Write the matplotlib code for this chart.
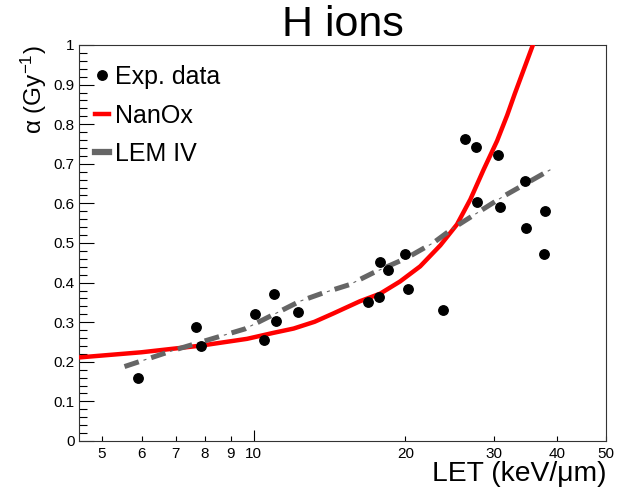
import matplotlib
matplotlib.use('Agg')
from matplotlib import ticker, pyplot as plt
from matplotlib.lines import Line2D

# experimental points (LET in keV/um, alpha in 1/Gy)
exp_let = [5.89, 7.69, 7.84, 10.05, 10.48, 10.98, 11.06, 12.26, 16.88, 17.76, 17.81, 18.48,
           19.94, 20.22, 23.70, 26.29, 27.56, 27.74, 30.54, 30.82, 34.61, 34.77, 37.82, 37.58]
exp_alpha = [0.160, 0.289, 0.239, 0.321, 0.255, 0.371, 0.303, 0.327, 0.352, 0.363, 0.451, 0.431,
             0.471, 0.385, 0.331, 0.762, 0.742, 0.604, 0.723, 0.592, 0.656, 0.537, 0.582, 0.472]

nanox_let = [4.5, 5.98, 7.87, 9.7, 10.93, 12.0, 13.2, 14.38, 16.25, 17.81, 19.52, 21.39, 23.45,
             25.31, 26.9, 28.6, 30.4, 31.84, 32.96, 35.8, 36.3]
nanox_alpha = [0.211, 0.224, 0.241, 0.258, 0.273, 0.284, 0.301, 0.322, 0.353, 0.372, 0.403, 0.441,
               0.494, 0.547, 0.610, 0.686, 0.758, 0.823, 0.877, 1.000, 1.030]

lem_let = [5.54, 6.97, 9.6, 10.93, 12.35, 13.74, 15.5, 17.28, 20.1, 22.75, 24.9, 31.3, 39.4]
lem_alpha = [0.188, 0.230, 0.283, 0.319, 0.353, 0.374, 0.395, 0.425, 0.462, 0.501, 0.538, 0.618, 0.690]

x_ticks = [5, 6, 7, 8, 9, 20, 30, 40, 50]

plt.rcParams['font.family'] = ['Liberation Sans', 'DejaVu Sans']
plt.rcParams['mathtext.fontset'] = 'custom'
plt.rcParams['mathtext.rm'] = 'Liberation Sans'
plt.rcParams['mathtext.it'] = 'Liberation Sans:italic'
plt.rcParams['lines.scale_dashes'] = False

fig = plt.figure(figsize=(6.17, 4.93), dpi=100)
ax = fig.add_axes([79/617, 1-441/493, 527/617, 396/493])

ax.plot(nanox_let, nanox_alpha, color='#ff0000', lw=3.2, solid_capstyle='butt',
        solid_joinstyle='round', zorder=3)
# dash-dot: thick dashes plus thin "dots" in the gaps
ax.plot(lem_let, lem_alpha, color='#666666', lw=3.6, dash_capstyle='butt',
        linestyle=(0, (10.8, 9.4)), zorder=4)
ax.plot(lem_let, lem_alpha, color='#666666', lw=0.8, dash_capstyle='butt',
        linestyle=(5.8, (2.2, 18.0)), zorder=4)
ax.plot(exp_let, exp_alpha, 'o', color='black', ms=6.8, zorder=5)

ax.set_xscale('log')
ax.set_xlim(4.5, 50)
ax.set_ylim(0, 1)

ax.xaxis.set_major_locator(ticker.FixedLocator([10]))
ax.xaxis.set_major_formatter(ticker.FuncFormatter(lambda v, p: '%g' % v))
ax.xaxis.set_minor_locator(ticker.FixedLocator(x_ticks))
ax.xaxis.set_minor_formatter(ticker.FuncFormatter(lambda v, p: '%g' % v))
ax.yaxis.set_major_locator(ticker.MultipleLocator(0.1))
ax.yaxis.set_minor_locator(ticker.MultipleLocator(0.02))
ax.yaxis.set_major_formatter(ticker.FuncFormatter(lambda v, p: '%g' % round(v, 2)))

ax.tick_params(which='both', direction='in', top=False, right=False, labelsize=11, width=0.8)
ax.tick_params(axis='x', which='major', length=8, pad=4)
ax.tick_params(axis='x', which='minor', length=3.6, pad=4)
ax.tick_params(axis='y', which='major', length=11, pad=3)
ax.tick_params(axis='y', which='minor', length=5.5)
for s in ax.spines.values():
    s.set_linewidth(0.8)
    s.set_color('#333333')

ax.set_title('H ions', fontsize=31, pad=3)
ax.set_xlabel('LET (keV/\u03bcm)', fontsize=20.3, loc='right')
ax.xaxis.set_label_coords(1.0, -0.05)
ax.set_ylabel('\u03b1 (Gy$^{-1}$)', fontsize=17.5, loc='top')
ax.yaxis.set_label_coords(-0.056, 1.0)

handles = [Line2D([], [], marker='o', color='black', ls='none', ms=6.8),
           Line2D([], [], color='#ff0000', lw=3.2),
           Line2D([], [], color='#666666', lw=4.5)]
ax.legend(handles, ['Exp. data', 'NanOx', 'LEM IV'], loc='upper left', frameon=False,
          fontsize=18, handlelength=0.56, handletextpad=0.24, labelspacing=0.58,
          bbox_to_anchor=(0.0, 0.99), borderaxespad=0.25)

fig.savefig('out.png', dpi=100)
